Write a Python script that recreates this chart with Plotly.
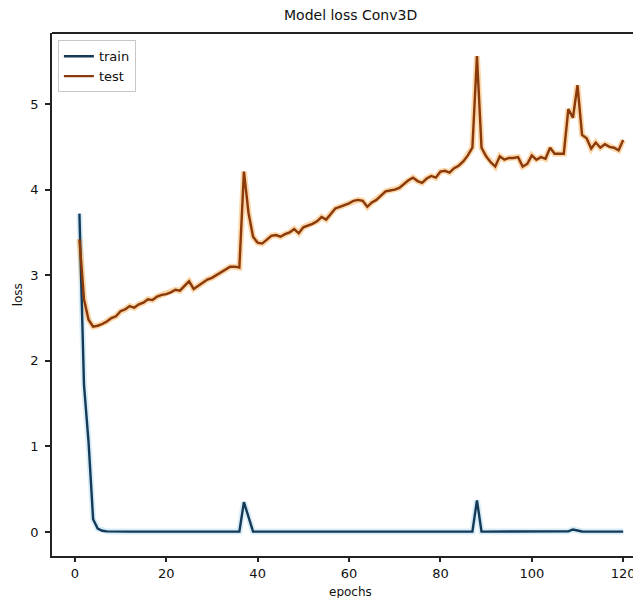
import plotly.graph_objects as go

epochs = list(range(1, 121))

train_loss = [
    3.72, 1.72, 1.05, 0.15, 0.04, 0.015, 0.008, 0.006, 0.005, 0.005,
    0.005, 0.005, 0.005, 0.005, 0.005, 0.005, 0.005, 0.005, 0.005, 0.005,
    0.005, 0.005, 0.005, 0.005, 0.005, 0.005, 0.005, 0.005, 0.005, 0.005,
    0.005, 0.005, 0.005, 0.005, 0.005, 0.005, 0.35, 0.19, 0.005, 0.005,
    0.005, 0.005, 0.005, 0.005, 0.005, 0.005, 0.005, 0.005, 0.005, 0.005,
    0.005, 0.005, 0.005, 0.005, 0.005, 0.005, 0.005, 0.005, 0.005, 0.005,
    0.005, 0.005, 0.005, 0.005, 0.005, 0.005, 0.005, 0.005, 0.005, 0.005,
    0.005, 0.005, 0.005, 0.005, 0.005, 0.005, 0.005, 0.005, 0.005, 0.005,
    0.005, 0.005, 0.005, 0.005, 0.005, 0.005, 0.005, 0.37, 0.005, 0.005,
    0.005, 0.005, 0.005, 0.005, 0.005, 0.005, 0.005, 0.005, 0.005, 0.005,
    0.005, 0.005, 0.005, 0.005, 0.005, 0.005, 0.005, 0.008, 0.03, 0.015,
    0.006, 0.005, 0.005, 0.005, 0.005, 0.005, 0.005, 0.005, 0.005, 0.005,
]

test_loss = [
    3.42, 2.72, 2.48, 2.40, 2.41, 2.43, 2.46, 2.50, 2.52, 2.58,
    2.60, 2.64, 2.62, 2.66, 2.68, 2.72, 2.71, 2.75, 2.77, 2.78,
    2.80, 2.83, 2.82, 2.87, 2.93, 2.84, 2.88, 2.92, 2.95, 2.97,
    3.00, 3.04, 3.07, 3.10, 3.10, 3.09, 4.21, 3.73, 3.45, 3.38,
    3.37, 3.42, 3.46, 3.47, 3.45, 3.48, 3.50, 3.54, 3.49, 3.56,
    3.58, 3.60, 3.63, 3.68, 3.65, 3.72, 3.78, 3.80, 3.82, 3.84,
    3.87, 3.88, 3.87, 3.80, 3.85, 3.88, 3.93, 3.98, 3.99, 4.00,
    4.02, 4.07, 4.11, 4.14, 4.10, 4.08, 4.13, 4.16, 4.14, 4.21,
    4.22, 4.20, 4.25, 4.28, 4.33, 4.40, 4.49, 5.56, 4.49, 4.39,
    4.32, 4.27, 4.39, 4.35, 4.37, 4.37, 4.38, 4.27, 4.30, 4.40,
    4.35, 4.38, 4.36, 4.49, 4.42, 4.42, 4.42, 4.94, 4.84, 5.22,
    4.64, 4.60, 4.48, 4.55, 4.49, 4.53, 4.50, 4.49, 4.46, 4.58,
]

x_ticks = [0, 20, 40, 60, 80, 100, 120]
y_ticks = [0, 1, 2, 3, 4, 5]

TRAIN_COLOR = "#143a58"
TRAIN_HALO = "#a8d8f0"
TEST_COLOR = "#8a390b"
TEST_HALO = "#f7a845"
FONT = "DejaVu Sans"

fig = go.Figure()

# soft halos (glow seen around the lines in the original)
fig.add_trace(go.Scatter(x=epochs, y=train_loss, mode="lines", showlegend=False,
                         hoverinfo="skip", opacity=0.45,
                         line=dict(color=TRAIN_HALO, width=6)))
fig.add_trace(go.Scatter(x=epochs, y=test_loss, mode="lines", showlegend=False,
                         hoverinfo="skip", opacity=0.45,
                         line=dict(color=TEST_HALO, width=6)))

fig.add_trace(go.Scatter(x=epochs, y=train_loss, mode="lines", name="train",
                         line=dict(color=TRAIN_COLOR, width=2.4)))
fig.add_trace(go.Scatter(x=epochs, y=test_loss, mode="lines", name="test",
                         line=dict(color=TEST_COLOR, width=2.4)))

# page body has an 8px margin, so the figure is sized to end at the window edge
fig.update_layout(
    width=633, height=590,
    margin=dict(l=44, r=0, t=25, b=42),
    plot_bgcolor="white", paper_bgcolor="white",
    font=dict(family=FONT, size=13, color="#111"),
    showlegend=True,
    legend=dict(x=0.01, y=0.986, xanchor="left", yanchor="top",
                bgcolor="white", bordercolor="#c8c8c8", borderwidth=1,
                font=dict(size=13, color="#111"), tracegroupgap=0),
    xaxis=dict(range=[-5.0, 123.9], tickvals=x_ticks, ticks="outside",
               ticklen=4, tickwidth=1.5, tickcolor="#222",
               showgrid=False, zeroline=False,
               showline=True, linecolor="#222", linewidth=1.8,
               ticklabelstandoff=0, tickfont=dict(size=13, color="#111")),
    yaxis=dict(range=[-0.28, 5.83], tickvals=y_ticks, ticks="outside",
               ticklen=5, tickwidth=1.5, tickcolor="#222",
               showgrid=False, zeroline=False,
               showline=True, linecolor="#222", linewidth=1.8,
               ticklabelstandoff=4, tickfont=dict(size=13, color="#111")),
    shapes=[dict(type="line", xref="paper", yref="paper", x0=0, x1=1, y0=1, y1=1,
                 line=dict(color="#222", width=1.8))],
    annotations=[
        dict(text="Model loss Conv3D", xref="paper", yref="paper",
             x=0.506, y=1.034, xanchor="center", yanchor="middle",
             showarrow=False, font=dict(size=14, color="#111")),
        dict(text="epochs", xref="paper", yref="paper",
             x=0.506, y=-0.069, xanchor="center", yanchor="middle",
             showarrow=False, font=dict(size=12, color="#111")),
        dict(text="loss", xref="paper", yref="paper",
             x=-0.058, y=0.5, xanchor="center", yanchor="middle", textangle=-90,
             showarrow=False, font=dict(size=12, color="#111")),
    ],
)

fig.write_html("out.html")
